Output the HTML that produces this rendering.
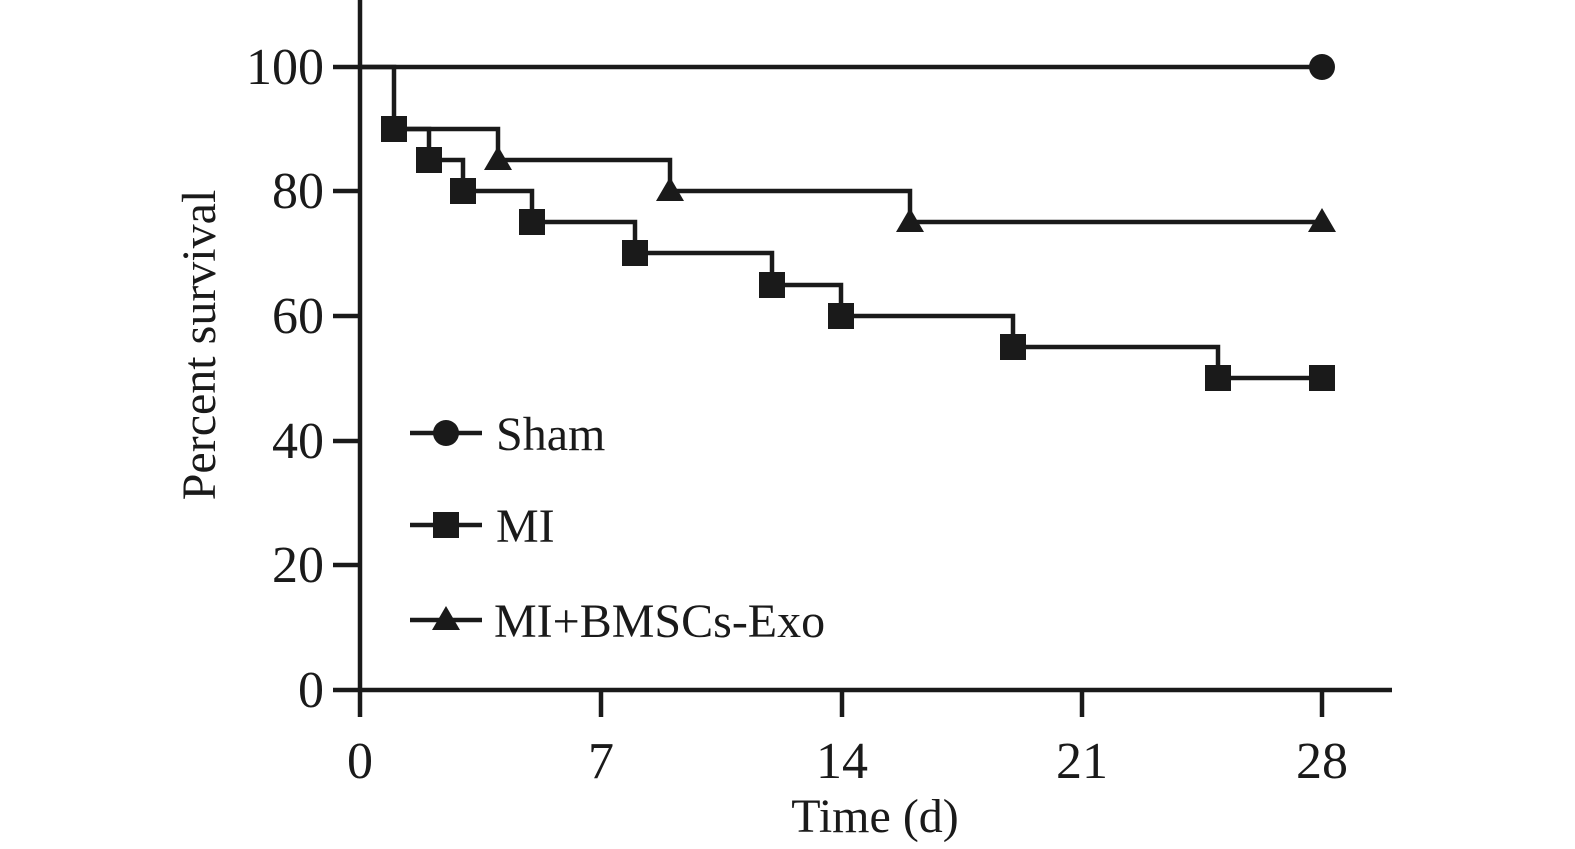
<!DOCTYPE html>
<html><head><style>body{margin:0;background:#fff}svg{display:block}</style></head><body>
<svg width="1575" height="849" viewBox="0 0 1575 849" xmlns="http://www.w3.org/2000/svg" font-family="Liberation Serif, serif" fill="#1a1a1a">
<g stroke="#1a1a1a" stroke-width="4.5" fill="none">
<line x1="360" y1="0" x2="360" y2="692"/>
<line x1="333" y1="690" x2="1392" y2="690"/>
<line x1="333" y1="67" x2="360" y2="67"/><line x1="333" y1="191" x2="360" y2="191"/><line x1="333" y1="316" x2="360" y2="316"/><line x1="333" y1="441" x2="360" y2="441"/><line x1="333" y1="565" x2="360" y2="565"/>
<line x1="601" y1="690" x2="601" y2="717"/><line x1="842" y1="690" x2="842" y2="717"/><line x1="1082" y1="690" x2="1082" y2="717"/><line x1="1322" y1="690" x2="1322" y2="717"/><line x1="360" y1="690" x2="360" y2="717"/>
<line x1="360" y1="67" x2="1322" y2="67"/>
<path d="M360,67 H394 V129 H429 V160 H463 V191 H532 V222 H635 V253 H772 V285 H841 V316 H1013 V347 H1218 V378 H1322"/>
<path d="M394,129 H498 V160 H670 V191 H910 V222 H1322"/>
<line x1="410" y1="433" x2="482" y2="433"/><line x1="410" y1="525" x2="482" y2="525"/><line x1="410" y1="620" x2="482" y2="620"/>
</g>
<circle cx="1322" cy="67" r="13"/><circle cx="446" cy="433" r="13"/>
<g>
<rect x="381" y="116" width="26" height="26"/><rect x="416" y="147" width="26" height="26"/><rect x="450" y="178" width="26" height="26"/><rect x="519" y="209" width="26" height="26"/><rect x="622" y="240" width="26" height="26"/><rect x="759" y="272" width="26" height="26"/><rect x="828" y="303" width="26" height="26"/><rect x="1000" y="334" width="26" height="26"/><rect x="1205" y="365" width="26" height="26"/><rect x="1309" y="365" width="26" height="26"/><rect x="433" y="512" width="26" height="26"/>
</g>
<g>
<polygon points="498,146 484,170 512,170"/><polygon points="670,177 656,201 684,201"/><polygon points="910,208 896,232 924,232"/><polygon points="1322,208 1308,232 1336,232"/><polygon points="446,606 432,630 460,630"/>
</g>
<g font-size="52" text-anchor="end">
<text x="324" y="84">100</text><text x="324" y="208">80</text><text x="324" y="333">60</text><text x="324" y="458">40</text><text x="324" y="582">20</text><text x="324" y="707">0</text>
</g>
<g font-size="52" text-anchor="middle">
<text x="360" y="778">0</text><text x="601" y="778">7</text><text x="842" y="778">14</text><text x="1082" y="778">21</text><text x="1322" y="778">28</text>
<text x="875" y="832" font-size="48">Time (d)</text>
<text transform="translate(215,345) rotate(-90)" font-size="48">Percent survival</text>
</g>
<g font-size="48">
<text x="496" y="450">Sham</text><text x="496" y="542">MI</text><text x="494" y="637">MI+BMSCs-Exo</text>
</g>
</svg>
</body></html>
